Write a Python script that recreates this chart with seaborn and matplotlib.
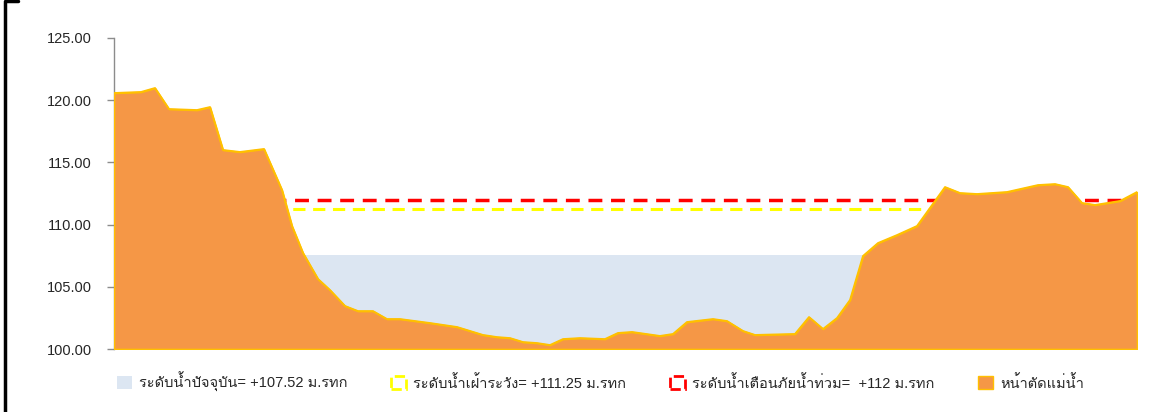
import numpy as np
import matplotlib.pyplot as plt
import seaborn as sns
from matplotlib import font_manager
from matplotlib.ft2font import FT2Font
from matplotlib.lines import Line2D
from matplotlib.patches import Patch

# cross-section of the river (distance along section, bed elevation m.MSL)
distance = [0, 27, 41, 55, 83, 96, 109, 126, 150, 168, 178, 189, 204, 216, 231,
            244, 259, 273, 286, 316, 343, 369, 383, 396, 409, 423, 436, 449, 466,
            491, 504, 518, 546, 559, 573, 599, 613, 629, 641, 681, 695, 709, 723,
            736, 749, 764, 783, 803, 831, 846, 863, 893, 924, 941, 954, 968, 981,
            1006, 1023]
elevation = [120.58, 120.66, 120.98, 119.29, 119.21, 119.45, 116.00, 115.84, 116.08,
             112.78, 109.89, 107.72, 105.63, 104.74, 103.46, 103.05, 103.05, 102.41,
             102.41, 102.09, 101.77, 101.13, 100.96, 100.88, 100.56, 100.48, 100.32,
             100.80, 100.88, 100.80, 101.29, 101.37, 101.05, 101.21, 102.17, 102.41,
             102.25, 101.45, 101.13, 101.21, 102.57, 101.61, 102.49, 103.94, 107.48,
             108.52, 109.16, 109.89, 113.02, 112.54, 112.46, 112.62, 113.18, 113.26,
             113.02, 111.74, 111.58, 111.90, 112.62]

water_level = 107.52
watch_level = 111.25
warning_level = 112.0
y_ticks = [100, 105, 110, 115, 120, 125]

labels = ["ระดับน้ำปัจจุบัน= +107.52 ม.รทก",
          "ระดับน้ำเฝ้าระวัง= +111.25 ม.รทก",
          "ระดับน้ำเตือนภัยน้ำท่วม=  +112 ม.รทก",
          "หน้าตัดแม่น้ำ"]


def find_thai_font():
    # look for any installed font that has Thai glyphs
    for f in font_manager.fontManager.ttflist:
        try:
            if FT2Font(f.fname).get_char_index(0x0E23):
                return f.name
        except Exception:
            pass
    return None


sns.set_style("white")
thai = find_thai_font()
families = ["Liberation Sans"] + ([thai] if thai else []) + ["DejaVu Sans"]
plt.rcParams["font.family"] = families

df = {"distance": np.array(distance), "elevation": np.array(elevation)}

fig = plt.figure(figsize=(11.64, 4.12), dpi=100)
ax = fig.add_axes([0.0979, 0.1529, 0.8789, 0.7549])

x = df["distance"]
y = df["elevation"]

ax.fill_between(x, 100, water_level, color="#DCE6F2", lw=0, zorder=1)
ax.axhline(watch_level, color="#FFFF00", lw=2.2, ls=(0, (4, 2.5)), zorder=2)
ax.axhline(warning_level, color="#FF0000", lw=2.5, ls=(0, (4, 2.5)), zorder=2)
ax.fill_between(x, 100, y, facecolor="#F59746", edgecolor="#FFC000", lw=1.2, zorder=3)
sns.lineplot(x=x, y=y, ax=ax, color="#FFC000", lw=1.3, zorder=4)

ax.set_xlim(0, 1023)
ax.set_ylim(100, 125)
ax.set_yticks(y_ticks)
ax.set_yticklabels([f"{v:.2f}" for v in y_ticks])
ax.set_xticks([])
ax.set_xlabel("")
ax.set_ylabel("")
for side in ["top", "right", "bottom"]:
    ax.spines[side].set_visible(False)
ax.spines["left"].set_color("#8C8C8C")
ax.spines["left"].set_linewidth(1)
ax.tick_params(axis="y", left=True, length=5, width=1, color="#8C8C8C",
               pad=11, labelsize=10.5, labelcolor="#262626")

handles = [
    Patch(facecolor="#DCE6F2", edgecolor="none"),
    Patch(facecolor="none", edgecolor="#FFFF00", lw=2, ls="--"),
    Patch(facecolor="none", edgecolor="#FF0000", lw=2, ls="--"),
    Patch(facecolor="#F59746", edgecolor="#FFC000", lw=1),
]
fig.legend(handles, labels, loc="center", bbox_to_anchor=(0.516, 0.073), ncol=4,
           frameon=False, fontsize=10.5, handlelength=1.0, handleheight=1.0,
           handletextpad=0.5, columnspacing=3.0)

# left/top border of the original frame
fig.add_artist(Line2D([18 / 1164, 5 / 1164, 5 / 1164], [1 - 1 / 412, 1 - 1 / 412, 0],
                      color="black", lw=2.5, transform=fig.transFigure))

fig.savefig("out.png", dpi=100)
